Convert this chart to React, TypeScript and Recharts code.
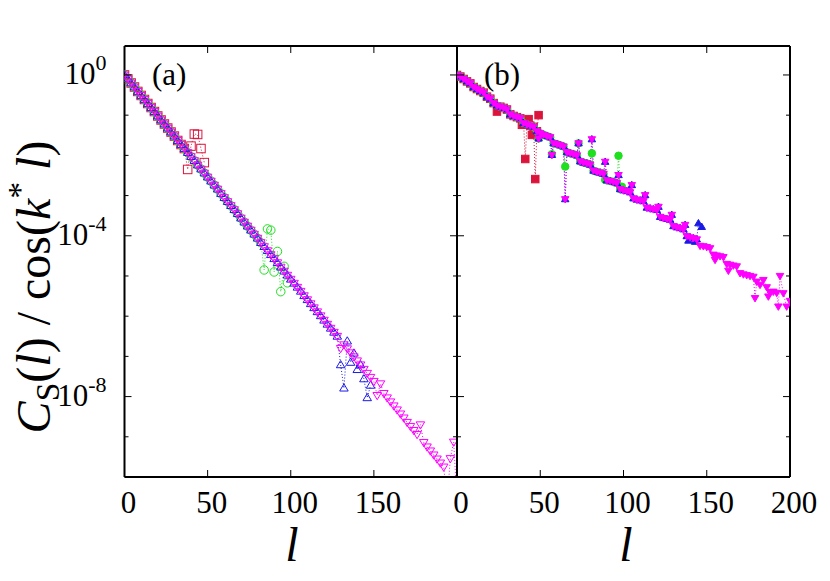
import React from "react";
import { LineChart, Line, XAxis, YAxis } from "recharts";

// log10 of C_S(l)/cos(k* l) as [l, value] pairs

// panel (a): common straight band, followed by every precision
const bandA: [number, number][] = [
  [0, 0], [2, -0.1], [4, -0.2], [6, -0.3], [8, -0.41], [10, -0.51], [12, -0.61], [14, -0.71], [16, -0.81], [18, -0.91],
  [20, -1.02], [22, -1.12], [24, -1.22], [26, -1.32], [28, -1.42], [30, -1.52], [32, -1.63], [34, -1.73], [36, -1.83], [38, -1.93],
  [40, -2.03], [42, -2.13], [44, -2.24], [46, -2.34], [48, -2.44], [50, -2.54], [52, -2.64], [54, -2.74], [56, -2.84], [58, -2.95],
  [60, -3.05], [62, -3.15], [64, -3.25], [66, -3.35], [68, -3.45], [70, -3.56], [72, -3.66], [74, -3.76], [76, -3.86], [78, -3.96],
  [80, -4.06], [82, -4.17], [84, -4.27], [86, -4.37], [88, -4.47], [90, -4.57], [92, -4.67], [94, -4.78], [96, -4.88], [98, -4.98],
  [100, -5.08], [102, -5.18], [104, -5.28], [106, -5.38], [108, -5.49], [110, -5.59], [112, -5.69], [114, -5.79], [116, -5.89], [118, -5.99],
  [120, -6.1], [122, -6.2], [124, -6.3], [126, -6.4], [128, -6.5], [130, -6.6], [132, -6.71], [134, -6.81], [136, -6.91], [138, -7.01],
  [140, -7.11], [142, -7.21], [144, -7.32], [146, -7.42], [148, -7.52], [150, -7.62], [152, -7.72], [154, -7.82], [156, -7.92], [158, -8.03],
  [160, -8.13], [162, -8.23], [164, -8.33], [166, -8.43], [168, -8.53], [170, -8.64], [172, -8.74], [174, -8.84], [176, -8.94], [178, -9.04],
  [180, -9.14], [182, -9.25], [184, -9.35], [186, -9.45], [188, -9.55], [190, -9.65], [192, -9.75], [194, -9.86], [196, -9.96], [198, -10.06],
  [200, -10.16],
];

// points where each series of panel (a) leaves the band
const redAOut: [number, number][] = [[38, -2.35], [40, -1.77], [42, -1.47], [44, -1.48], [46, -1.83], [48, -2.18]];
const greenAOut: [number, number][] = [[84, -4.85], [86, -3.83], [88, -3.86], [90, -4.9], [92, -4.39], [94, -5.39], [96, -4.76], [98, -5.17]];
const blueAOut: [number, number][] = [[130, -7.21], [132, -7.79], [134, -6.62], [136, -7.15], [138, -6.92], [140, -7.33], [144, -7.56], [146, -8.03], [148, -7.72]];
const magentaAOut: [number, number][] = [[130, -6.8], [152, -7.97], [154, -7.68], [178, -8.7], [194, -10.6], [196, -9.54], [198, -9.13], [200, -10.6]];
const lastA = [48, 98, 148, 200];

// panel (b): stepped band with spikes at the step edges
const bandB: [number, number][] = [
  [0, 0], [2, -0.04], [4, -0.1], [6, -0.16], [8, -0.21], [10, -0.3], [12, -0.35], [14, -0.4], [16, -0.44],
  [18, -0.54], [20, -0.59], [22, -0.7], [24, -0.76], [26, -0.79], [28, -0.82], [30, -0.86],
  [32, -0.98], [34, -1.02], [36, -1.05], [38, -1.08], [40, -1.2], [42, -1.23], [44, -1.26], [46, -1.29],
  [48, -1.4], [49, -1.58], [50, -1.45], [52, -1.49], [54, -1.52], [56, -1.55], [57, -1.99],
  [58, -1.7], [60, -1.72], [62, -1.75], [64, -1.78], [65, -3.09],
  [66, -1.92], [68, -1.95], [70, -1.97], [72, -2.0], [73, -1.7],
  [74, -2.15], [76, -2.18], [78, -2.2], [80, -2.23], [81, -1.6],
  [82, -2.38], [84, -2.41], [86, -2.43], [88, -2.46], [89, -2.16],
  [90, -2.62], [92, -2.64], [94, -2.66], [96, -2.69], [97, -2.49],
  [98, -2.84], [100, -2.87], [102, -2.89], [104, -2.92], [105, -2.74],
  [106, -3.07], [108, -3.1], [110, -3.12], [112, -3.14], [113, -2.99],
  [114, -3.3], [116, -3.32], [118, -3.34], [120, -3.36], [121, -3.28],
  [122, -3.53], [124, -3.56], [126, -3.58], [128, -3.6], [129, -3.48],
  [130, -3.76], [132, -3.79], [134, -3.81], [136, -3.84], [137, -3.73],
  [138, -4.01], [140, -4.04], [142, -4.06], [144, -4.09],
  [146, -4.25], [148, -4.26], [150, -4.28], [152, -4.31],
  [154, -4.47], [155, -4.6], [156, -4.49], [158, -4.51], [160, -4.53],
  [162, -4.7], [163, -4.87], [164, -4.72], [166, -4.74], [168, -4.76],
  [170, -4.93], [172, -4.96], [174, -4.98], [176, -5.0], [178, -5.02], [179, -5.55],
  [180, -5.14], [182, -5.22], [184, -5.1], [186, -5.28], [187, -5.51], [188, -5.4],
  [190, -5.39], [192, -5.42], [193, -5.76], [194, -5.0], [196, -5.43], [198, -5.76], [200, -5.62],
];

const redBOut: [number, number][] = [[24, -0.91], [39, -1.24], [41, -2.09], [43, -1.1], [45, -1.49], [47, -2.59], [49, -1.0]];
const greenBOut: [number, number][] = [[57, -1.97], [65, -2.28], [73, -1.7], [81, -1.95], [89, -2.61], [97, -2.01], [99, -2.78]];
const blueBOut: [number, number][] = [[139, -4.12], [143, -4.15], [145, -3.69], [147, -3.78]];
const magentaBOut: [number, number][] = [];
const lastB = [48, 98, 144, 200];

const xTicks = [0, 50, 100, 150, 200];
const xLabelsA = [0, 50, 100, 150];
const xLabelsB = [0, 50, 100, 150, 200];
const yTicks = [1e0, 1e-1, 1e-2, 1e-3, 1e-4, 1e-5, 1e-6, 1e-7, 1e-8, 1e-9, 1e-10];
const yLabelExps = [0, -4, -8];

const FONT = "Liberation Serif";
const BASE = 20; // text is set at 20px and scaled up to the wanted size
const COLORS = ["#dc143c", "#1ee01e", "#1a1ae6", "#ff00ff"];
const SHAPES = ["square", "circle", "up", "down"];
const Y_DOMAIN = [1e-10, 5.25];

function toPoints(band: [number, number][], out: [number, number][], last: number) {
  const skip = new Set(out.map((p) => p[0]));
  return [...band.filter((p) => p[0] <= last && !skip.has(p[0])), ...out]
    .sort((a, b) => a[0] - b[0])
    .map(([l, v]) => ({ l, c: Math.pow(10, v) }));
}

const seriesA = [redAOut, greenAOut, blueAOut, magentaAOut].map((o, i) => toPoints(bandA, o, lastA[i]));
const seriesB = [redBOut, greenBOut, blueBOut, magentaBOut].map((o, i) => toPoints(bandB, o, lastB[i]));

const marker = (shape: string, color: string, filled: boolean, s: number) => (props: any) => {
  const { cx, cy, index } = props;
  const k = `m-${index}`;
  if (!Number.isFinite(cx) || !Number.isFinite(cy)) return <g key={k} />;
  const common = { stroke: color, strokeWidth: 1, fill: filled ? color : "none" };
  if (shape === "square") return <rect key={k} x={cx - s / 2} y={cy - s / 2} width={s} height={s} {...common} />;
  if (shape === "circle") return <circle key={k} cx={cx} cy={cy} r={s / 2} {...common} />;
  const h = s * 0.85;
  const d = shape === "up" ? 1 : -1;
  const pts = `${cx},${cy - d * h * 0.6} ${cx - s / 2},${cy + d * h * 0.4} ${cx + s / 2},${cy + d * h * 0.4}`;
  return <polygon key={k} points={pts} {...common} />;
};

// scaled text: x, y are the anchor point, size the wanted font size
const T = ({ x, y, size, anchor, rotate, children }: any) => (
  <text transform={`translate(${x},${y})${rotate ? ` rotate(${rotate})` : ""} scale(${size / BASE})`}
    fontFamily={FONT} fontSize={BASE} textAnchor={anchor || "start"} fill="#000">
    {children}
  </text>
);

const BottomTick = ({ x, y, payload, labels }: any) => (
  <g>
    <line x1={x} x2={x} y1={y} y2={y - 7} stroke="#000" strokeWidth={1} />
    {labels.includes(payload.value) && <T x={x + 4} y={y + 36} size={31} anchor="middle">{payload.value}</T>}
  </g>
);

const TopTick = ({ x, y }: any) => <line x1={x} x2={x} y1={y} y2={y + 7} stroke="#000" strokeWidth={1} />;

const SideTick = ({ x, y, payload, side, showLabels }: any) => {
  const exp = Math.round(Math.log10(payload.value));
  const major = yLabelExps.includes(exp);
  const len = major ? 7 : 4;
  return (
    <g>
      <line x1={x} x2={side === "left" ? x + len : x - len} y1={y} y2={y} stroke="#000" strokeWidth={1} />
      {showLabels && major && (
        <T x={x - 18} y={y + 9} size={31} anchor="end">
          10<tspan dy={-9} fontSize={14.2}>{String(exp)}</tspan>
        </T>
      )}
    </g>
  );
};

function Panel({ series, filled, left, width, margin, labels, showY }: any) {
  const frame = { stroke: "#000", strokeWidth: 2 };
  return (
    <div style={{ position: "absolute", left, top: 0 }}>
      <LineChart width={width} height={581} margin={margin}>
        <XAxis xAxisId="b" dataKey="l" type="number" domain={[0, 200]} ticks={xTicks} interval={0}
          height={1} tickSize={0} tickMargin={0} axisLine={frame} tickLine={false} allowDataOverflow
          tick={<BottomTick labels={labels} />} />
        <XAxis xAxisId="t" orientation="top" dataKey="l" type="number" domain={[0, 200]} ticks={xTicks} interval={0}
          height={1} tickSize={0} tickMargin={0} axisLine={frame} tickLine={false} allowDataOverflow
          tick={<TopTick />} />
        <YAxis yAxisId="l" type="number" scale="log" domain={Y_DOMAIN} ticks={yTicks} interval={0}
          width={1} tickSize={0} tickMargin={0} axisLine={frame} tickLine={false} allowDataOverflow
          tick={<SideTick side="left" showLabels={showY} />} />
        <YAxis yAxisId="r" orientation="right" type="number" scale="log" domain={Y_DOMAIN} ticks={yTicks} interval={0}
          width={1} tickSize={0} tickMargin={0} axisLine={frame} tickLine={false} allowDataOverflow
          tick={<SideTick side="right" showLabels={false} />} />
        {series.map((pts: any[], i: number) => (
          <Line key={i} xAxisId="b" yAxisId="l" data={pts} dataKey="c" type="linear"
            stroke={COLORS[i]} strokeWidth={1} strokeDasharray="1 2"
            dot={marker(SHAPES[i], COLORS[i], filled, filled ? 7.5 : 8.5)}
            activeDot={false} isAnimationActive={false} />
        ))}
      </LineChart>
    </div>
  );
}

export default function App() {
  return (
    <div style={{ position: "absolute", left: 0, top: 0, width: 830, height: 581, background: "#fff" }}>
      <Panel series={seriesA} filled={false} left={0} width={470}
        margin={{ top: 45, right: 12, bottom: 103, left: 123.5 }} labels={xLabelsA} showY />
      <Panel series={seriesB} filled left={440} width={390}
        margin={{ top: 45, right: 39, bottom: 103, left: 16 }} labels={xLabelsB} showY={false} />
      <svg width={830} height={581} style={{ position: "absolute", left: 0, top: 0, pointerEvents: "none" }}>
        <T x={152} y={85} size={31}>(a)</T>
        <T x={484} y={85} size={31}>(b)</T>
        <T x={292} y={561} size={48} anchor="middle"><tspan fontStyle="italic">l</tspan></T>
        <T x={626} y={561} size={48} anchor="middle"><tspan fontStyle="italic">l</tspan></T>
        <T x={50} y={287} size={48} anchor="middle" rotate={-90}>
          <tspan fontStyle="italic">C</tspan>
          <tspan fontSize={14} dy={3.8}>S</tspan>
          <tspan dy={-3.8}>(</tspan>
          <tspan fontStyle="italic">l</tspan>
          <tspan>) / cos(</tspan>
          <tspan fontStyle="italic">k</tspan>
          <tspan fontSize={14} dy={-8}>*</tspan>
          <tspan dy={8}> </tspan>
          <tspan fontStyle="italic">l</tspan>
          <tspan>)</tspan>
        </T>
      </svg>
    </div>
  );
}
